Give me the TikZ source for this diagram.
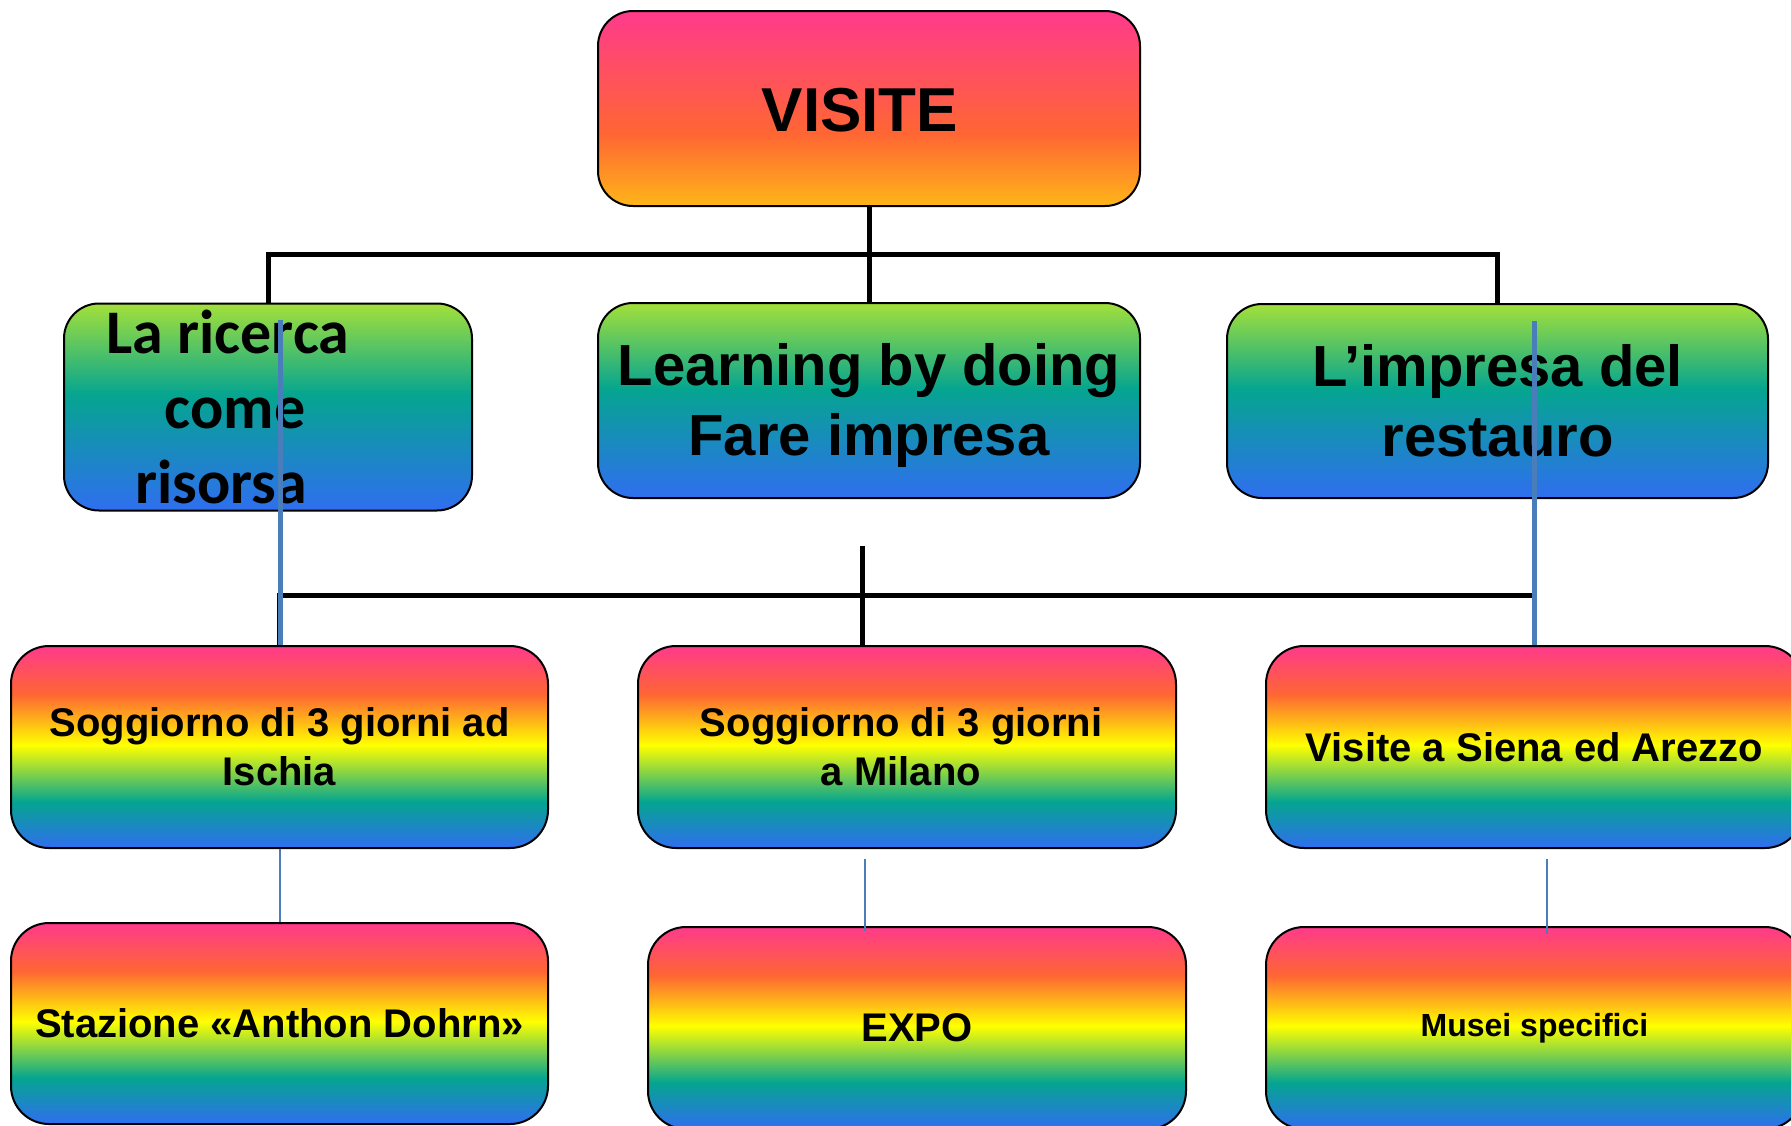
\documentclass[tikz,border=0pt]{standalone}
\usepackage{fontspec}
\setmainfont{Liberation Sans}
\newfontfamily\carlito{Carlito}
\definecolor{cpink}{HTML}{FF3A8C}
\definecolor{corange}{HTML}{FF6633}
\definecolor{camber}{HTML}{FFB519}
\definecolor{cyellow}{HTML}{FFFF00}
\definecolor{cteal}{HTML}{05A590}
\definecolor{cblue}{HTML}{2F6EF0}
\definecolor{clime}{HTML}{A3E03A}
\definecolor{lineblue}{HTML}{4A7EBB}
\pgfdeclareverticalshading{rainbowsh}{100bp}{color(0bp)=(cblue); color(25bp)=(cblue); color(36.5bp)=(cteal); color(50.5bp)=(cyellow); color(63bp)=(corange); color(75bp)=(cpink); color(100bp)=(cpink)}
\pgfdeclareverticalshading{greensh}{100bp}{color(0bp)=(cblue); color(25bp)=(cblue); color(53bp)=(cteal); color(75bp)=(clime); color(100bp)=(clime)}
\pgfdeclareverticalshading{topsh}{100bp}{color(0bp)=(camber); color(25bp)=(camber); color(43.5bp)=(corange); color(75bp)=(cpink); color(100bp)=(cpink)}
\tikzset{
  boxbase/.style={draw=black, line width=2pt, rectangle, rounded corners=35pt, align=center, inner sep=0pt, text=black},
  topbox/.style={boxbase, shading=topsh, minimum width=542pt, minimum height=195pt, font=\fontsize{62}{70}\selectfont\bfseries},
  greenbox/.style={boxbase, shading=greensh, font=\fontsize{58}{70}\selectfont\bfseries},
  rainbox/.style={boxbase, shading=rainbowsh, rounded corners=38pt, minimum width=537pt, minimum height=202pt, font=\fontsize{40}{49}\selectfont\bfseries},
  carltext/.style={align=center, inner sep=0pt, font=\carlito\fontsize{62}{75}\selectfont\bfseries},
  blk/.style={draw=black, line width=5pt},
  bluethick/.style={draw=lineblue, line width=5pt},
  bluethin/.style={draw=lineblue, line width=2pt}
}
\begin{document}
\begin{tikzpicture}[x=1pt,y=-1pt]
\useasboundingbox (0,0) rectangle (1791,1125);
\clip (0,0) rectangle (1791,1125);
% named connector points
\coordinate (h1) at (869,254);
\coordinate (m0) at (862,546);
\coordinate (m1) at (862,595);
\coordinate (bl1) at (280,320);
\coordinate (bl3) at (1534,321);
\coordinate (t2a) at (865,859);
\coordinate (t2b) at (865,931);
\coordinate (t3a) at (1547,859);
\coordinate (t3b) at (1547,934);

% boxes
\node[topbox] (v) at (869,108.5) {};
\node[greenbox, minimum width=408pt, minimum height=207pt] (g1) at (268,407) {};
\node[greenbox, minimum width=542pt, minimum height=195pt] (g2) at (869,400.5) {};
\node[greenbox, minimum width=541pt, minimum height=194pt] (g3) at (1497.5,401) {L’impresa del\\restauro};
\node[rainbox] (r1) at (279.5,747) {Soggiorno di 3 giorni ad\\Ischia};
\node[rainbox, minimum width=538pt] (r2) at (907,747) {};
\node[rainbox] (r3) at (1534.5,747) {Visite a Siena ed Arezzo};
\node[rainbox, minimum height=201pt] (b1) at (279.5,1023.5) {Stazione «Anthon Dohrn»};
\node[rainbox, minimum width=538pt] (b2) at (917,1028) {EXPO};
\node[rainbox] (b3) at (1534.5,1028) {\fontsize{32}{38}\selectfont\bfseries Musei specifici};

% texts placed off-centre in their boxes
\node[inner sep=0pt, font=\fontsize{62}{70}\selectfont\bfseries] (vt) at (860,110) {VISITE};
\node[inner sep=0pt, align=center, font=\fontsize{58}{70}\selectfont\bfseries] (g2t) at (869,405) {Learning by doing\\Fare impresa};
\node[carltext] (g1t) at (228,407) {La ricerca\\\hspace*{14pt}come\\risorsa\hspace*{14pt}};
\node[inner sep=0pt, align=center, font=\fontsize{40}{49}\selectfont\bfseries] (r2t) at (901,747) {Soggiorno di 3 giorni\\a Milano};

% black tree lines
\draw[blk] (v.south) -- (h1);
\draw[blk, line join=miter] (g1.north) |- (h1) -| (g3.north);
\draw[blk] (h1) -- (g2.north);
\draw[blk] (m0) -- (m1 |- r2.north);
\draw[blk, line join=miter] (r1.north) |- (m1) -| (r3.north);

% blue lines
\draw[bluethick] (bl1) -- (bl1 |- r1.north);
\draw[bluethick] (bl3) -- (bl3 |- r3.north);
\draw[bluethin] (r1.south) -- (b1.north);
\draw[bluethin] (t2a) -- (t2b);
\draw[bluethin] (t3a) -- (t3b);
\end{tikzpicture}
\end{document}
